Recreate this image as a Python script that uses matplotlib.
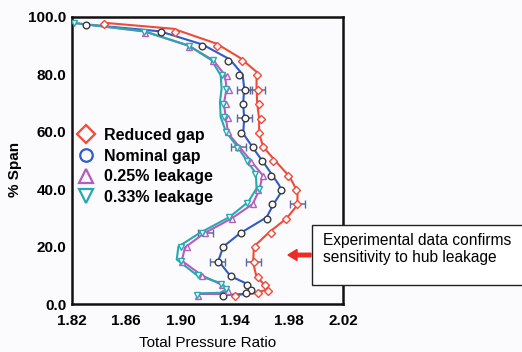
import numpy as np
import matplotlib
matplotlib.use('Agg')
import matplotlib.pyplot as plt
from matplotlib.lines import Line2D
from matplotlib.patches import Rectangle, FancyArrow

plt.rcParams['font.family'] = ['Liberation Sans', 'DejaVu Sans']

BG = '#fbfbfd'
RED = '#f04a3a'
BLUE = '#2e5cc8'
PURPLE = '#b45cc0'
TEAL = '#28a8b0'
ERR = '#5a6a9a'

# CFD lines (total pressure ratio, % span)
red_line_x = [1.8433, 1.8948, 1.9268, 1.9439, 1.9562, 1.9562, 1.9567, 1.9581, 1.9581, 1.9611, 1.9696,
              1.9807, 1.9864, 1.9864, 1.9783, 1.9660, 1.9542, 1.9537, 1.9562, 1.9623, 1.9648, 1.9537, 1.9390]
red_line_y = [98.0, 95.9, 90.7, 85.8, 80.9, 75.6, 69.8, 64.6, 59.4, 54.8, 50.1,
              44.3, 39.1, 34.5, 29.8, 25.2, 20.0, 14.2, 9.5, 6.6, 5.1, 3.7, 3.1]
blue_line_x = [1.8306, 1.8850, 1.9164, 1.9366, 1.9459, 1.9471, 1.9463, 1.9471, 1.9463, 1.9557, 1.9636,
               1.9729, 1.9746, 1.9690, 1.9636, 1.9439, 1.9317, 1.9280, 1.9370, 1.9493, 1.9518, 1.9483, 1.9312]
blue_line_y = [97.4, 95.0, 90.4, 85.2, 80.0, 75.1, 69.8, 64.6, 59.4, 53.0, 47.8,
               41.4, 39.1, 35.0, 30.2, 24.6, 20.0, 15.1, 9.7, 7.0, 4.9, 3.5, 3.1]
purple_line_x = [1.8200, 1.8740, 1.9064, 1.9243, 1.9329, 1.9341, 1.9321, 1.9336, 1.9353, 1.9435, 1.9526,
                 1.9607, 1.9582, 1.9533, 1.9378, 1.9174, 1.9034, 1.9010, 1.9157, 1.9309, 1.9361, 1.9297, 1.9128]
purple_line_y = [98.0, 94.9, 89.9, 84.9, 79.7, 75.1, 69.8, 64.6, 59.4, 54.8, 49.5,
                 44.9, 39.7, 34.8, 29.8, 24.6, 19.7, 15.1, 10.0, 6.6, 4.6, 3.5, 3.5]
teal_line_x = [1.8200, 1.8728, 1.9059, 1.9231, 1.9297, 1.9304, 1.9292, 1.9297, 1.9336, 1.9420, 1.9488,
               1.9557, 1.9562, 1.9501, 1.9366, 1.9145, 1.8985, 1.8973, 1.9120, 1.9304, 1.9341, 1.9292, 1.9120]
teal_line_y = [98.0, 95.1, 90.1, 84.9, 79.7, 75.1, 70.4, 65.2, 60.0, 54.8, 50.1,
               45.5, 40.3, 35.6, 30.4, 24.8, 20.0, 15.5, 10.1, 7.2, 5.1, 3.9, 3.7]

# point data along each curve
red_pts_x = [1.8433, 1.8960, 1.9268, 1.9456, 1.9562, 1.9570, 1.9580, 1.9598, 1.9580, 1.9610, 1.9685, 1.9795,
             1.9856, 1.9864, 1.9780, 1.9667, 1.9550, 1.9542, 1.9574, 1.9623, 1.9643, 1.9574, 1.9400]
red_pts_y = [97.7, 94.8, 89.8, 84.7, 79.7, 74.7, 69.6, 64.6, 59.7, 54.8, 49.8, 44.7,
             39.7, 34.7, 29.6, 24.6, 19.7, 14.6, 9.5, 6.6, 4.6, 3.7, 2.8]
blue_pts_x = [1.8306, 1.8855, 1.9157, 1.9351, 1.9434, 1.9476, 1.9463, 1.9476, 1.9449, 1.9533, 1.9604, 1.9665,
              1.9746, 1.9677, 1.9636, 1.9444, 1.9312, 1.9275, 1.9370, 1.9493, 1.9518, 1.9481, 1.9312]
blue_pts_y = [97.2, 94.7, 89.9, 84.8, 79.7, 74.7, 69.6, 64.8, 59.7, 54.8, 49.8, 44.7,
              39.7, 34.7, 29.6, 24.6, 19.7, 14.6, 9.7, 6.6, 4.9, 3.7, 2.8]
purple_pts_x = [1.8740, 1.9064, 1.9243, 1.9341, 1.9360, 1.9333, 1.9353, 1.9348, 1.9427, 1.9518, 1.9610,
                1.9574, 1.9537, 1.9378, 1.9182, 1.9047, 1.9010, 1.9162, 1.9304, 1.9353, 1.9128]
purple_pts_y = [94.5, 89.6, 84.6, 79.4, 74.7, 69.6, 64.8, 59.9, 54.8, 49.5, 44.7,
                39.7, 34.7, 29.6, 24.6, 19.7, 14.6, 9.7, 6.6, 4.5, 2.8]
teal_pts_x = [1.8212, 1.8733, 1.9064, 1.9238, 1.9304, 1.9340, 1.9311, 1.9320, 1.9340, 1.9415, 1.9493, 1.9550,
              1.9579, 1.9493, 1.9358, 1.9157, 1.9005, 1.9005, 1.9133, 1.9300, 1.9334, 1.9120]
teal_pts_y = [97.9, 94.8, 89.9, 84.9, 79.9, 74.9, 69.8, 65.2, 60.0, 54.5, 49.9, 45.2,
              39.9, 35.3, 30.2, 24.8, 20.0, 15.1, 10.0, 7.0, 5.1, 3.2]

# experimental uncertainty bars
err_x = [1.9570, 1.9864, 1.9542, 1.9476, 1.9476, 1.9275, 1.9427, 1.9182]
err_y = [74.7, 34.7, 14.6, 74.7, 64.8, 14.6, 54.8, 24.6]
err_half = 0.0055

legend_labels = ['Reduced gap', 'Nominal gap', '0.25% leakage', '0.33% leakage']

fig = plt.figure(figsize=(5.22, 3.52), dpi=100, facecolor=BG)
ax = fig.add_axes([72 / 522, 1 - 304 / 352, 271 / 522, 287 / 352])
ax.set_facecolor(BG)

ax.errorbar(err_x, err_y, xerr=err_half, fmt='none', ecolor=ERR, elinewidth=1.1, capsize=2.8, zorder=2)

series = [
    (red_line_x, red_line_y, red_pts_x, red_pts_y, RED, RED, 'D', 3.8),
    (blue_line_x, blue_line_y, blue_pts_x, blue_pts_y, BLUE, '#3a3a3a', 'o', 4.8),
    (purple_line_x, purple_line_y, purple_pts_x, purple_pts_y, PURPLE, PURPLE, '^', 4.8),
    (teal_line_x, teal_line_y, teal_pts_x, teal_pts_y, TEAL, TEAL, 'v', 4.8),
]
for lx, ly, px, py, lc, mc, mk, ms in series:
    ax.plot(lx, ly, color=lc, lw=1.5, zorder=3)
    ax.plot(px, py, ls='none', marker=mk, ms=ms, mfc=BG, mec=mc, mew=1.0, zorder=4)

ax.set_xlim(1.82, 2.02)
ax.set_ylim(0, 100)
ax.set_xticks([1.82, 1.86, 1.90, 1.94, 1.98, 2.02])
ax.set_xticklabels(['1.82', '1.86', '1.90', '1.94', '1.98', '2.02'])
ax.set_yticks([0, 20, 40, 60, 80, 100])
ax.set_yticklabels(['0.0', '20.0', '40.0', '60.0', '80.0', '100.0'])
ax.tick_params(length=0, labelsize=11, pad=4)
for lab in ax.get_xticklabels() + ax.get_yticklabels():
    lab.set_fontweight('bold')
ax.tick_params(axis='x', pad=7)
for sp in ax.spines.values():
    sp.set_linewidth(1.8)
    sp.set_color('#111111')

ax.set_xlabel('Total Pressure Ratio', fontsize=11, labelpad=6)
ax.set_ylabel('% Span', fontsize=11, fontweight='bold')
ax.yaxis.set_label_coords(-0.184, 0.47)

handles = [
    Line2D([], [], ls='none', marker='D', ms=9, mfc='none', mec=RED, mew=1.6),
    Line2D([], [], ls='none', marker='o', ms=9, mfc='none', mec=BLUE, mew=1.6),
    Line2D([], [], ls='none', marker='^', ms=10, mfc='none', mec=PURPLE, mew=1.6),
    Line2D([], [], ls='none', marker='v', ms=10, mfc='none', mec=TEAL, mew=1.6),
]
leg = fig.legend(handles, legend_labels, loc='upper left', bbox_to_anchor=(78 / 522, 1 - 128 / 352),
                 frameon=False, borderpad=0, borderaxespad=0, handlelength=1.0, handletextpad=0.6,
                 labelspacing=0.35, prop={'weight': 'bold', 'size': 11.5})

# callout box and arrow
box = Rectangle((312 / 522, 1 - 285 / 352), 215 / 522, 60 / 352, transform=fig.transFigure,
                facecolor='white', edgecolor='#222222', lw=1.0, zorder=10)
fig.add_artist(box)
fig.text(323 / 522, 1 - 249 / 352, 'Experimental data confirms\nsensitivity to hub leakage',
         fontsize=11.2, va='center', ha='left', linespacing=1.2, zorder=11)
arrow = FancyArrow(311 / 522, 1 - 255 / 352, -23 / 522, 0, width=3.5 / 352, head_width=11 / 352,
                   head_length=9 / 522, length_includes_head=True, color='#ee2a24',
                   transform=fig.transFigure, zorder=11)
fig.add_artist(arrow)

plt.savefig('out.png', dpi=100, facecolor=BG)
plt.close()
